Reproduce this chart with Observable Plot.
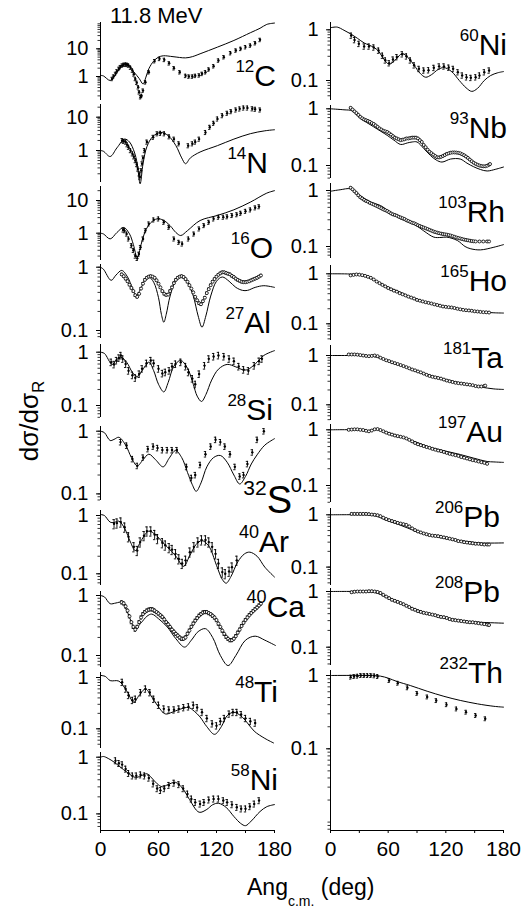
<!DOCTYPE html>
<html><head><meta charset="utf-8">
<script src="https://cdn.jsdelivr.net/npm/d3@7"></script>
<script src="https://cdn.jsdelivr.net/npm/@observablehq/plot@0.6"></script>
<style>
body{margin:0;background:#fff;}
#chart{position:relative;width:524px;height:910px;overflow:hidden;background:#fff}
</style></head>
<body><div id="chart"></div>
<script>
const FONT = '"Liberation Sans", Arial, sans-serif';
// ---------- text ----------
const titleText = "11.8 MeV";
const yTitle = ["dσ/dσ", "R"];
const xTitle = ["Ang", "c.m.", " (deg)"];
const angTicks = [0, 30, 60, 90, 120, 150, 180];
const angLabels = [0, 60, 120, 180];
const yMajor = [0.1, 1, 10];

// ---------- data: theory curves [angle, dσ/dσR] and measured points ----------
const C12_th = [[0,1.1],[3,1.05],[10,0.72],[15,1.1],[20,2.0],[26,3.0],[34.5,1.45],[40,0.85],[44,0.54],[47,0.95],[50,1.9],[55,3.6],[60,5.0],[65,5.6],[75,5.2],[88,4.7],[95,5.2],[103,6.6],[121,11.5],[138,20],[155,38],[165,55],[172,76],[180,85]];
const C12_ex = [[12,0.82],[13.5,1.0],[15.5,1.25],[17,1.55],[19,1.9],[20.5,2.2],[22.4,2.5],[24,2.65],[26,2.7],[27.5,2.65],[29,2.5],[31,2.1],[33,1.65],[34.5,1.2],[36,0.82],[37.5,0.6],[39,0.41],[40,0.27],[41.4,0.18],[42.5,0.2],[44,0.31],[46.5,0.62],[50,1.43],[56,3.6],[61,4.35],[66,4.0],[71,3.0],[76,2.0],[82,1.43],[88,1.06],[91.4,1.0],[95,1.0],[98,1.06],[102,1.1],[105,1.25],[108.6,1.43],[112,1.8],[117,2.36],[122,3.8],[127.6,5.0],[134.5,7.0],[140,8.7],[145,10],[150,11.5],[155,13.2],[160,16],[165,21]];

const N14_th = [[0,1.0],[3,0.95],[10,0.66],[17,1.2],[25,2.2],[30,1.8],[35,0.9],[38,0.4],[41,0.1],[44,0.4],[48,1.3],[54,2.6],[62,3.5],[70,2.8],[78,1.4],[84,0.6],[88,0.4],[93,0.6],[103,0.9],[121,1.4],[138,2.2],[155,3.2],[170,3.9],[180,4.2]];
const N14_ex = [[22.4,2.0],[24,1.9],[26,1.8],[27.5,1.5],[29,1.26],[31,1.0],[33,0.8],[34.5,0.65],[36,0.5],[37.5,0.38],[38.6,0.28],[40,0.2],[40.7,0.16],[42,0.25],[43,0.4],[44,0.6],[45.5,1.0],[48,1.8],[54.5,2.5],[58.6,3.2],[62,3.3],[66,3.2],[71,2.6],[76,2.2],[81,1.6],[90.7,1.4],[95,1.6],[98,1.8],[102,2.2],[108.6,3.5],[113,5.0],[117,6.6],[121,8.9],[126,11.2],[131,13.2],[135,14.8],[140,16.6],[144,17.8],[148,19],[152,19],[157,18],[160,17.4],[165,16.6]];

const O16_th = [[0,1.0],[3,0.95],[10,0.67],[17,1.05],[24,1.5],[30,0.95],[34,0.45],[38,0.18],[42,0.45],[46,1.1],[52,2.1],[58.6,2.75],[65,2.5],[72,1.7],[78,1.05],[83,0.85],[90,1.2],[103,2.44],[121,3.5],[138,5.2],[155,8.9],[172,16.8],[180,20]];
const O16_ex = [[23.4,1.26],[24.8,1.2],[27,0.95],[29,0.67],[32,0.42],[34,0.3],[36,0.2],[38,0.17],[39.7,0.23],[41.4,0.37],[44,0.67],[46.5,1.2],[50,1.93],[55,2.56],[60,2.75],[65.5,2.17],[70.7,1.53],[76,0.67],[81,0.53],[84.5,0.47],[91,0.67],[96.6,0.95],[102,1.36],[107,1.72],[112,2.17],[117,2.75],[122,3.1],[127,3.1],[131,3.2],[136,3.5],[141,3.7],[145,4.1],[150,4.7],[155,5.2],[160,6.0],[164,6.5]];

const Al27_th = [[0,1.0],[3,0.93],[11,0.62],[16,0.75],[22,0.89],[28,0.7],[33,0.47],[37,0.36],[42,0.47],[46,0.63],[50,0.70],[55,0.58],[60,0.33],[63,0.18],[65.5,0.135],[68,0.18],[72,0.35],[78,0.62],[84.5,0.74],[90,0.6],[96,0.35],[101,0.17],[105,0.113],[109,0.17],[114,0.35],[120,0.6],[126,0.70],[133,0.6],[140,0.48],[147,0.43],[152,0.43],[160,0.48],[169,0.51],[180,0.48]];
const Al27_ex = [[22,0.77],[24,0.72],[26,0.66],[28,0.60],[30,0.53],[32,0.47],[34,0.42],[36,0.36],[38,0.34],[40,0.38],[42,0.46],[44,0.55],[46,0.63],[48,0.68],[50,0.71],[52,0.72],[54,0.71],[56,0.68],[58,0.62],[60,0.55],[62,0.48],[64,0.42],[66,0.38],[68,0.365],[70,0.37],[72,0.42],[74,0.48],[76,0.56],[78,0.63],[80,0.68],[82,0.71],[84,0.72],[86,0.70],[88,0.65],[90,0.59],[92,0.52],[94,0.46],[96,0.40],[98,0.34],[100,0.30],[102,0.27],[104,0.26],[106,0.29],[108,0.33],[110,0.39],[112,0.45],[114,0.52],[116,0.59],[118,0.65],[120,0.71],[122,0.76],[124,0.80],[126,0.83],[128,0.83],[130,0.81],[132,0.79],[134,0.77],[136,0.73],[138,0.70],[140,0.66],[142,0.63],[144,0.61],[146,0.59],[148,0.58],[150,0.58],[152,0.59],[154,0.60],[156,0.62],[158,0.64],[160,0.66],[162,0.68],[164,0.71],[166,0.74]];

const Si28_th = [[0,1.0],[4,0.95],[12,0.59],[16,0.7],[20.7,0.81],[27,0.65],[33,0.42],[38,0.35],[43,0.45],[50,0.65],[55,0.45],[60,0.25],[65.5,0.18],[70,0.27],[76,0.55],[83,0.70],[90,0.5],[96,0.25],[100,0.15],[104.5,0.119],[109,0.16],[115,0.3],[122,0.48],[131,0.59],[140,0.53],[147,0.47],[152,0.47],[160,0.6],[169,0.87],[180,1.07]];
const Si28_ex = [[11,0.65],[14,0.59],[16.5,0.70],[19,0.78],[21,0.87],[23,0.75],[26,0.6],[29,0.45],[33,0.37],[36,0.33],[40,0.39],[43,0.49],[47.6,0.62],[52,0.70],[55,0.62],[60,0.49],[64,0.40],[67,0.42],[71,0.45],[74,0.54],[77.6,0.60],[83,0.65],[88,0.54],[91,0.42],[95,0.32],[98,0.25],[102,0.39],[107.6,0.56],[112,0.75],[117,0.83],[122,0.87],[127.6,0.83],[133,0.75],[138,0.68],[143,0.54],[148,0.47],[153,0.45],[159,0.56],[164,0.68],[167,0.75]];

const S32_th = [[0,1.0],[4,0.95],[10,0.71],[14,0.74],[19,0.80],[26,0.6],[32,0.38],[38,0.28],[44,0.35],[50,0.43],[57,0.35],[64.8,0.27],[71,0.37],[77.6,0.49],[84,0.38],[90,0.22],[95,0.14],[99,0.11],[104,0.15],[110,0.27],[117,0.38],[124,0.41],[131,0.32],[138,0.2],[144,0.144],[150,0.19],[156,0.3],[162,0.42],[170,0.6],[180,0.76]];
const S32_ex = [[20.7,0.67],[27,0.59],[33,0.36],[38,0.28],[44,0.38],[49,0.52],[54.5,0.57],[59,0.54],[64,0.50],[69,0.50],[74,0.50],[79,0.50],[89,0.27],[94,0.18],[98,0.20],[103,0.29],[108.6,0.43],[114,0.57],[119,0.73],[124,0.67],[128.6,0.57],[134,0.43],[139,0.27],[144,0.19],[148,0.2],[152,0.30],[157,0.46],[162,0.73],[169,1.0]];

const Ar40_th = [[0,1.04],[4,1.0],[10,0.77],[14,0.76],[19,0.80],[25,0.6],[31,0.35],[36,0.25],[42,0.37],[50,0.54],[58,0.45],[64,0.35],[69,0.29],[78,0.2],[86,0.134],[92,0.2],[99,0.32],[105,0.37],[112,0.3],[120,0.14],[126,0.08],[130,0.069],[135,0.09],[142,0.16],[149,0.22],[154.5,0.235],[162,0.2],[170,0.13],[180,0.088]];
const Ar40_ex = [[14,0.72],[17,0.74],[21,0.77],[25,0.63],[29,0.43],[34.5,0.29],[38,0.25],[41,0.35],[45,0.45],[48,0.54],[52,0.54],[56,0.47],[59,0.40],[64,0.34],[67,0.31],[71,0.28],[74,0.26],[77.6,0.22],[81,0.18],[84.5,0.15],[88,0.17],[92.4,0.235],[96.6,0.29],[100.7,0.35],[104.5,0.38],[108.6,0.38],[112,0.35],[115.5,0.29],[119,0.22],[122,0.15],[126,0.107],[129,0.10],[133,0.11],[136,0.13],[141,0.17]];

const Ca40_th = [[0,1.0],[4,0.95],[10,0.73],[16,0.75],[22,0.77],[28,0.52],[33,0.33],[36,0.28],[42,0.35],[48,0.45],[53,0.49],[60,0.41],[69,0.30],[78,0.19],[87,0.138],[94,0.18],[101,0.25],[108.6,0.28],[116,0.2],[124,0.1],[132,0.068],[140,0.1],[150,0.18],[160,0.21],[170,0.18],[181,0.147]];
const Ca40_ex = [[22,0.77],[24,0.74],[26,0.66],[28,0.56],[30,0.45],[32,0.36],[34,0.30],[36,0.27],[38,0.30],[40,0.36],[42,0.43],[44,0.49],[46,0.53],[48,0.56],[50,0.58],[52,0.59],[54,0.585],[56,0.56],[58,0.53],[60,0.50],[62,0.47],[64,0.44],[66,0.40],[68,0.36],[70,0.33],[72,0.30],[74,0.27],[76,0.25],[78,0.23],[80,0.215],[82,0.20],[84,0.19],[86,0.19],[88,0.20],[90,0.23],[92,0.26],[94,0.30],[96,0.34],[98,0.38],[100,0.42],[102,0.46],[104,0.49],[106,0.52],[108,0.53],[110,0.53],[112,0.51],[114,0.49],[116,0.46],[118,0.43],[120,0.39],[122,0.34],[124,0.30],[126,0.26],[128,0.23],[130,0.205],[132,0.19],[134,0.18],[136,0.18],[138,0.19],[140,0.21],[142,0.24],[144,0.27],[146,0.31],[148,0.35],[150,0.39],[152,0.43],[154,0.47],[156,0.51],[158,0.55],[160,0.59],[162,0.63],[164,0.68],[166,0.73]];

const Ti48_th = [[0,1.1],[5,1.05],[10,0.87],[19,0.85],[27,0.55],[34.5,0.33],[40,0.45],[46.5,0.60],[52,0.45],[58.6,0.29],[67,0.195],[74,0.21],[82,0.24],[91,0.26],[97,0.22],[103,0.17],[110,0.11],[118,0.078],[125,0.11],[131,0.18],[138,0.21],[145,0.18],[152,0.13],[159,0.09],[170,0.065],[179,0.053]];
const Ti48_ex = [[22.4,0.81],[26,0.60],[29,0.45],[33,0.36],[36,0.38],[41.4,0.51],[46.5,0.60],[51,0.51],[55,0.38],[60,0.29],[65.5,0.245],[70.7,0.235],[76,0.235],[81,0.245],[86,0.26],[91,0.27],[96,0.29],[100,0.26],[105,0.21],[110,0.16],[115.5,0.126],[120,0.115],[124,0.14],[128,0.16],[133,0.195],[137,0.21],[141,0.21],[145.5,0.19],[150,0.16],[155,0.14],[160,0.13]];

const Ni58_th = [[0,1.0],[3,1.03],[8,0.95],[14,0.82],[20,0.68],[27.6,0.54],[36,0.44],[42,0.47],[48,0.51],[53,0.43],[58.6,0.34],[64,0.30],[70,0.33],[77.6,0.36],[85,0.28],[92,0.18],[102,0.107],[110,0.12],[116,0.145],[122,0.154],[130,0.13],[138,0.09],[145,0.068],[150,0.062],[156,0.075],[165,0.11],[172,0.134],[180,0.146]];
const Ni58_ex = [[15.5,0.87],[19,0.78],[22.4,0.74],[26,0.62],[29,0.52],[33,0.47],[37,0.47],[41.4,0.49],[45.5,0.47],[50,0.43],[54.5,0.34],[58.6,0.28],[62,0.26],[66,0.28],[70.7,0.32],[76,0.35],[81,0.33],[85.5,0.28],[90,0.225],[94,0.184],[98,0.16],[103,0.15],[107,0.16],[112,0.177],[117,0.184],[122,0.184],[127,0.172],[131,0.16],[136,0.146],[141,0.131],[145.5,0.123],[150,0.123],[154.5,0.135],[159,0.15],[164,0.172]];

const Ni60_th = [[0,1.1],[7,1.13],[14,0.98],[21,0.83],[28,0.68],[35,0.55],[40,0.5],[45,0.45],[50,0.38],[54,0.29],[61,0.21],[68,0.26],[74.6,0.34],[81,0.28],[87,0.2],[93,0.14],[99,0.116],[105,0.13],[112,0.165],[118,0.18],[126,0.15],[134,0.1],[141,0.072],[147,0.061],[153,0.07],[160,0.1],[166.5,0.125],[174,0.142],[180,0.15]];
const Ni60_ex = [[21.5,0.77],[25,0.63],[29.5,0.53],[35,0.47],[40,0.47],[45,0.45],[50,0.39],[54,0.31],[57,0.25],[61,0.22],[65,0.26],[69,0.29],[74.6,0.33],[79,0.30],[83,0.25],[87,0.2],[92,0.17],[97,0.158],[102,0.16],[107.5,0.178],[113,0.19],[118,0.19],[123,0.18],[127.6,0.17],[132.5,0.146],[137,0.126],[141.5,0.116],[146,0.113],[151,0.116],[155,0.126],[160,0.146],[165,0.158]];

const Nb93_th = [[0,1.0],[14,0.96],[22.5,0.92],[31,0.68],[45,0.48],[59,0.34],[66,0.28],[73,0.235],[80,0.25],[85,0.26],[90,0.26],[97,0.2],[104,0.15],[110,0.125],[116,0.115],[125,0.13],[135,0.13],[142,0.11],[149,0.095],[156,0.085],[163,0.08],[172,0.086],[180,0.094]];
const Nb93_ex = [[21,1.04],[23,0.97],[25,0.90],[27,0.84],[29,0.78],[31,0.72],[33,0.68],[35,0.65],[37,0.63],[39,0.61],[41,0.59],[43,0.56],[45,0.54],[47,0.51],[49,0.48],[51,0.45],[53,0.43],[55,0.41],[57,0.40],[59,0.39],[61,0.37],[63,0.35],[65,0.33],[67,0.31],[69,0.30],[71,0.29],[73,0.28],[75,0.285],[77,0.29],[79,0.30],[81,0.30],[83,0.305],[85,0.31],[87,0.31],[89,0.31],[91,0.30],[93,0.28],[95,0.26],[97,0.23],[99,0.21],[101,0.19],[103,0.175],[105,0.165],[107,0.155],[109,0.147],[111,0.14],[113,0.139],[115,0.142],[117,0.147],[119,0.153],[121,0.16],[123,0.164],[125,0.168],[127,0.17],[129,0.17],[131,0.169],[133,0.167],[135,0.164],[137,0.158],[139,0.152],[141,0.144],[143,0.136],[145,0.127],[147,0.119],[149,0.112],[151,0.107],[153,0.103],[155,0.10],[157,0.098],[159,0.097],[161,0.097],[163,0.099],[165,0.103],[166,0.106]];

const Rh103_th = [[0,0.97],[10,1.03],[21,1.07],[31,0.81],[42,0.62],[52,0.54],[62,0.41],[73,0.31],[87,0.25],[97,0.19],[107.5,0.147],[115,0.145],[121,0.147],[132,0.128],[140,0.1],[146,0.091],[156,0.087],[170,0.097],[180,0.108]];
const Rh103_ex = [[21,1.12],[23,1.05],[25,0.97],[27,0.90],[29,0.82],[31,0.76],[33,0.72],[35,0.68],[37,0.65],[39,0.63],[41,0.60],[43,0.58],[45,0.56],[47,0.54],[49,0.52],[51,0.50],[53,0.48],[55,0.46],[57,0.445],[59,0.43],[61,0.41],[63,0.39],[65,0.375],[67,0.365],[69,0.355],[71,0.34],[73,0.33],[75,0.32],[77,0.31],[79,0.295],[81,0.285],[83,0.275],[85,0.265],[87,0.26],[89,0.25],[91,0.24],[93,0.232],[95,0.225],[97,0.218],[99,0.212],[101,0.205],[103,0.198],[105,0.192],[107,0.186],[109,0.181],[111,0.177],[113,0.173],[115,0.17],[117,0.167],[119,0.165],[121,0.163],[123,0.16],[125,0.157],[127,0.153],[129,0.149],[131,0.145],[133,0.142],[135,0.139],[137,0.136],[139,0.133],[141,0.131],[143,0.129],[145,0.127],[147,0.125],[149,0.124],[151,0.123],[155,0.123],[159,0.123],[163,0.123],[165,0.123]];

const Ho165_th = [[0,1.0],[20,0.99],[30,0.95],[40,0.84],[50,0.68],[60,0.54],[70,0.45],[80,0.37],[90,0.31],[100,0.27],[110,0.24],[120,0.22],[130,0.205],[140,0.19],[150,0.178],[160,0.17],[170,0.166],[180,0.164]];
const Ho165_ex = [[21,0.93],[24,0.95],[27,0.97],[30,0.96],[33,0.94],[36,0.91],[39,0.87],[42,0.83],[45,0.77],[48,0.70],[51,0.65],[54,0.60],[57,0.56],[60,0.52],[63,0.49],[66,0.46],[69,0.44],[72,0.41],[75,0.39],[78,0.37],[81,0.35],[84,0.335],[87,0.32],[90,0.30],[93,0.29],[96,0.28],[99,0.27],[102,0.262],[105,0.255],[108,0.245],[111,0.238],[114,0.23],[117,0.222],[120,0.218],[123,0.215],[126,0.212],[129,0.207],[132,0.2],[135,0.195],[138,0.19],[141,0.187],[144,0.185],[147,0.182],[150,0.178],[153,0.176],[156,0.173],[159,0.171],[162,0.17],[165,0.168]];

const Ta181_th = [[0,1.0],[20,1.0],[30,1.0],[40,0.98],[45,0.95],[50,0.9],[60,0.79],[73,0.63],[87,0.51],[100,0.42],[114,0.35],[128,0.30],[142,0.26],[156,0.23],[170,0.21],[180,0.205]];
const Ta181_ex = [[19,1.05],[22,1.05],[25,1.05],[28,1.04],[31,1.02],[34,1.0],[37,0.98],[40,0.97],[43,0.98],[46,1.0],[49,0.97],[52,0.90],[55,0.85],[58,0.80],[61,0.77],[64,0.73],[67,0.70],[70,0.67],[73,0.64],[76,0.61],[79,0.58],[82,0.55],[85,0.52],[88,0.50],[91,0.475],[94,0.455],[97,0.43],[100,0.405],[103,0.385],[106,0.37],[109,0.36],[112,0.35],[115,0.34],[118,0.325],[121,0.31],[124,0.30],[127,0.29],[130,0.28],[133,0.275],[136,0.27],[139,0.265],[142,0.26],[145,0.255],[148,0.25],[151,0.24],[154,0.235],[157,0.235],[160,0.24],[161,0.245]];

const Au197_th = [[0,1.0],[30,1.0],[40,0.97],[48,1.02],[55,0.95],[65,0.84],[75,0.73],[85,0.64],[95,0.55],[107,0.47],[121,0.41],[135,0.36],[149,0.31],[163,0.27],[170,0.265],[180,0.26]];
const Au197_ex = [[19,1.0],[22,1.01],[25,1.02],[28,1.02],[31,1.0],[34,0.99],[37,0.96],[40,0.94],[43,0.97],[46,1.02],[49,1.03],[52,0.99],[55,0.94],[58,0.89],[61,0.85],[64,0.82],[67,0.79],[70,0.77],[73,0.75],[76,0.73],[79,0.70],[82,0.66],[85,0.62],[88,0.58],[91,0.55],[94,0.53],[97,0.51],[100,0.49],[103,0.475],[106,0.455],[109,0.44],[112,0.425],[115,0.415],[118,0.40],[121,0.385],[124,0.37],[127,0.36],[130,0.35],[133,0.34],[136,0.325],[139,0.315],[142,0.305],[145,0.295],[148,0.285],[151,0.278],[154,0.27],[157,0.262],[160,0.255],[163,0.245]];

const Pb206_th = [[0,1.0],[30,1.0],[45,0.97],[59,0.78],[73,0.63],[87,0.50],[100,0.42],[114,0.37],[128,0.33],[142,0.31],[156,0.29],[180,0.29]];
const Pb206_ex = [[22,1.04],[25,1.04],[28,1.04],[31,1.04],[34,1.04],[37,1.04],[40,1.03],[43,1.01],[46,1.0],[49,0.98],[52,0.94],[55,0.88],[58,0.83],[61,0.79],[64,0.76],[67,0.73],[70,0.70],[73,0.68],[76,0.66],[79,0.64],[82,0.60],[85,0.55],[88,0.51],[91,0.48],[94,0.46],[97,0.44],[100,0.425],[103,0.41],[106,0.40],[109,0.395],[112,0.39],[115,0.38],[118,0.37],[121,0.36],[124,0.35],[127,0.34],[130,0.33],[133,0.315],[136,0.31],[139,0.30],[142,0.295],[145,0.29],[148,0.285],[151,0.28],[154,0.28],[157,0.275],[160,0.27],[163,0.27],[165,0.27]];

const Pb208_th = [[0,1.0],[30,1.0],[45,0.97],[59,0.79],[73,0.62],[87,0.49],[100,0.41],[114,0.355],[128,0.32],[142,0.29],[156,0.28],[180,0.27]];
const Pb208_ex = [[22,0.97],[25,0.99],[28,1.0],[31,1.0],[34,1.0],[37,1.0],[40,1.01],[43,1.01],[46,1.0],[49,0.98],[52,0.94],[55,0.87],[58,0.81],[61,0.76],[64,0.71],[67,0.68],[70,0.65],[73,0.62],[76,0.59],[79,0.555],[82,0.525],[85,0.49],[88,0.47],[91,0.445],[94,0.43],[97,0.415],[100,0.405],[103,0.395],[106,0.385],[109,0.375],[112,0.36],[115,0.35],[118,0.345],[121,0.335],[124,0.32],[127,0.31],[130,0.305],[133,0.30],[136,0.295],[139,0.29],[142,0.285],[145,0.28],[148,0.28],[151,0.275],[154,0.27],[157,0.265],[160,0.26],[163,0.255],[165,0.25]];

const Th232_th = [[0,1.0],[40,1.0],[52,0.98],[60,0.92],[69,0.83],[83,0.73],[100.6,0.61],[118,0.52],[135,0.457],[153,0.41],[170,0.38],[180,0.37]];
const Th232_ex = [[21,0.95],[24.5,0.97],[28,0.98],[31.5,1.0],[35,1.0],[38.5,1.0],[42,1.0],[45.5,0.99],[49,0.97],[61,0.855],[70,0.785],[80,0.68],[90,0.57],[100.6,0.51],[110,0.455],[120.7,0.40],[131,0.35],[141,0.316],[151,0.285],[161,0.257]];

// nucleus labels, relative error half-widths, marker style
const massNums = ["12","14","16","27","28","32","40","40","48","58","60","93","103","165","181","197","206","208","232"];
const symbols  = ["C","N","O","Al","Si","S","Ar","Ca","Ti","Ni","Ni","Nb","Rh","Ho","Ta","Au","Pb","Pb","Th"];
const relErr   = [0.14,0.14,0.14,0.04,0.14,0.10,0.18,0.06,0.14,0.12,0.12,0.03,0.03,0.03,0.03,0.03,0.04,0.04,0.06];
const denseSet = [false,false,false,true,false,false,false,true,false,false,false,true,true,true,true,true,true,true,false];
const theory = [C12_th,N14_th,O16_th,Al27_th,Si28_th,S32_th,Ar40_th,Ca40_th,Ti48_th,Ni58_th,Ni60_th,Nb93_th,Rh103_th,Ho165_th,Ta181_th,Au197_th,Pb206_th,Pb208_th,Th232_th];
const measured = [C12_ex,N14_ex,O16_ex,Al27_ex,Si28_ex,S32_ex,Ar40_ex,Ca40_ex,Ti48_ex,Ni58_ex,Ni60_ex,Nb93_ex,Rh103_ex,Ho165_ex,Ta181_ex,Au197_ex,Pb206_ex,Pb208_ex,Th232_ex];

// ---------- layout (pixels): panel top, bottom, y of "1", px per decade, label right x, label baseline y, symbol font, sup font ----------
const layout = [
 [22,100,76,27.7,276,86,30,17],[104,182,150,33.3,268,173,30,17],[186,260,232.7,32.7,273,258,30,17],[264,338,266.7,63.3,271,333,30,17],
 [344,417,351.7,53.3,273,420,30,17],[426,500,430.7,62.7,292,513,38,21],[510,585,515,58.3,289,552,30,18],[591,667,595,60,305,617,30,18],
 [672,748,677,51.3,278,702,30,17],[752,830,756.7,56.7,278,790,30,17],
 [22,100,29.3,50.7,507,55,30,17],[105,178,108.3,56.7,507,138,30,17],[183,258,190,56,505,222,30,17],[265,340,273.3,50,507,291,30,17],
 [345,420,355,49.3,503,368,30,17],[424,502,429.3,55.7,503,442,30,17],[508,585,514.3,52.3,500,527,30,17],[588,665,591,55.7,500,602,30,17],
 [670,830,675,73.3,503,683,30,17]
];
const colX = [[100,250],[330,21]]; // marginLeft, marginRight of each column
const W = 524;

const chart = document.getElementById("chart");

function minorTicks(lo, hi) {
  const out = [];
  for (let e = Math.floor(Math.log10(lo)); e <= Math.ceil(Math.log10(hi)); e++)
    for (let k = 1; k <= 9; k++) { const v = k * Math.pow(10, e); if (v >= lo && v <= hi) out.push(v); }
  return out;
}

for (let i = 0; i < 19; i++) {
  const [top, bottom, p1, dec] = layout[i];
  const col = i < 10 ? 0 : 1;
  const isBottom = i === 9 || i === 18;
  const ymax = Math.pow(10, (p1 - top) / dec);
  const ymin = Math.pow(10, -(bottom - p1) / dec);
  const e = relErr[i];
  const ex = measured[i];
  const dense = denseSet[i];
  const mb = isBottom ? 40 : 0;
  const marks = [
    Plot.ruleX([0], {stroke: "#000", strokeWidth: 1}),
    Plot.axisY(minorTicks(ymin, ymax), {anchor: "left", tickSize: 2.5, tickFormat: () => "", label: null, strokeWidth: 0.8}),
    Plot.axisY(yMajor.filter(v => v >= ymin && v <= ymax), {anchor: "left", tickSize: 4, tickPadding: 8, label: null,
      tickFormat: d => d >= 1 ? String(d) : "0.1", fontSize: 20}),
    Plot.line(theory[i], {x: d => d[0], y: d => d[1], curve: "catmull-rom", stroke: "#000", strokeWidth: 1}),
    Plot.ruleX(ex, {x: d => d[0], y1: d => d[1] * (1 - e), y2: d => d[1] * (1 + e), stroke: "#000", strokeWidth: 0.9}),
    Plot.ruleY(ex, {y: d => d[1] * (1 - e), x1: d => d[0] - 1.2, x2: d => d[0] + 1.2, stroke: "#000", strokeWidth: 0.9}),
    Plot.ruleY(ex, {y: d => d[1] * (1 + e), x1: d => d[0] - 1.2, x2: d => d[0] + 1.2, stroke: "#000", strokeWidth: 0.9}),
    dense
      ? Plot.dot(ex, {x: d => d[0], y: d => d[1], r: 1.5, fill: "#fff", stroke: "#000", strokeWidth: 0.8})
      : Plot.dot(ex, {x: d => d[0], y: d => d[1], r: 1.2, fill: "#000"})
  ];
  if (isBottom) {
    marks.push(Plot.ruleY([ymin], {stroke: "#000", strokeWidth: 1}));
    marks.push(Plot.axisX(angTicks, {tickSize: 3, tickPadding: 8, label: null, fontSize: 21,
      tickFormat: d => angLabels.includes(d) ? String(d) : ""}));
  }
  const svg = Plot.plot({
    width: W, height: (bottom - top) + mb,
    marginLeft: colX[col][0], marginRight: colX[col][1], marginTop: 0, marginBottom: mb,
    x: {domain: [0, 180], axis: isBottom ? undefined : null},
    y: {type: "log", domain: [ymin, ymax], label: null},
    style: {position: "absolute", left: "0px", top: top + "px", overflow: "visible", background: "transparent",
      fontFamily: FONT, fontSize: "20px", color: "#000"},
    marks
  });
  chart.appendChild(svg);
}

// ---------- overlay text ----------
const ov = d3.select("#chart").append("svg").attr("width", W).attr("height", 910)
  .style("position", "absolute").style("left", "0px").style("top", "0px").style("overflow", "visible")
  .attr("font-family", FONT).style("white-space", "pre");

ov.append("text").attr("x", 110).attr("y", 23).attr("font-size", 22).text(titleText);

for (let i = 0; i < 19; i++) {
  const [, , , , R, B, fs, ss] = layout[i];
  const t = ov.append("text").attr("x", R).attr("y", B).attr("text-anchor", "end");
  const up = Math.round(fs * 0.47);
  t.append("tspan").attr("font-size", ss).attr("dy", -up).text(massNums[i]);
  t.append("tspan").attr("font-size", fs).attr("dy", up).text(symbols[i]);
}

const yt = ov.append("text").attr("transform", "translate(38,421) rotate(-90)").attr("text-anchor", "middle").attr("font-size", 26);
yt.append("tspan").text(yTitle[0]);
yt.append("tspan").attr("font-size", 17).attr("dy", 6).text(yTitle[1]);

const xt = ov.append("text").attr("x", 247).attr("y", 895).attr("font-size", 23);
xt.append("tspan").text(xTitle[0]);
xt.append("tspan").attr("font-size", 14).attr("dy", 11).text(xTitle[1]);
xt.append("tspan").attr("dy", -11).text(xTitle[2]);
</script>
</body></html>
